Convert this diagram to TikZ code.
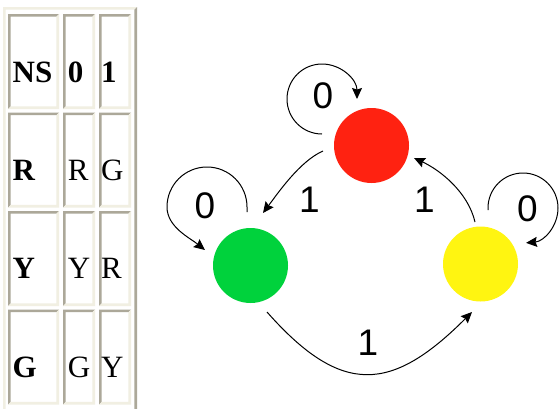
\documentclass[tikz,border=0pt]{standalone}
\usepackage{fontspec}
\setmainfont{Liberation Serif}
\newfontfamily\lblfont{Liberation Sans}
\usetikzlibrary{arrows.meta}
\definecolor{bdark}{HTML}{ACA899}
\definecolor{blight}{HTML}{F1EFE2}
\definecolor{stred}{HTML}{FF2211}
\definecolor{stgreen}{HTML}{00D23C}
\definecolor{styellow}{HTML}{FFF511}
\begin{document}
\begin{tikzpicture}[x=1pt,y=-1pt,
  state/.style={circle,minimum size=75pt,inner sep=0pt,draw=none},
  tcell/.style={anchor=base west,inner sep=0pt,font=\fontsize{31}{31}\selectfont},
  thead/.style={anchor=base west,inner sep=0pt,font=\fontsize{31}{31}\selectfont\bfseries},
  lbl/.style={inner sep=0pt,font=\lblfont\fontsize{37}{37}\selectfont},
  trans/.style={draw=black,line width=1pt,-{Stealth[length=11pt,width=10pt,inset=1.5pt]}}]
\useasboundingbox (0,0) rectangle (560,408);
\fill[white] (0,0) rectangle (560,408);
% outer table border
\fill[blight] (3,7) -- (137,7) -- (134.3,9.7) -- (5.7,9.7) -- (5.7,412) -- (3,412) -- cycle;
\fill[bdark] (137,7) -- (137,412) -- (134.3,412) -- (134.3,9.7) -- cycle;
% cells
\foreach \xa/\xb in {8/59,63/95,99/131}{
  \foreach \ya/\yb in {14/109,112.5/207.5,211/306,309.5/404.5}{
    \fill[bdark] (\xa,\ya) -- (\xb,\ya) -- (\xb-2.7,\ya+2.7) -- (\xa+2.7,\ya+2.7) -- (\xa+2.7,\yb-2.7) -- (\xa,\yb) -- cycle;
    \fill[blight] (\xb,\ya) -- (\xb,\yb) -- (\xa,\yb) -- (\xa+2.7,\yb-2.7) -- (\xb-2.7,\yb-2.7) -- (\xb-2.7,\ya+2.7) -- cycle;
  }
}
% table texts
\node[thead] (hNS) at (12.5,82) {NS};
\node[thead] (h0) at (67.7,82) {0};
\node[thead] (h1) at (101,82) {1};
\node[thead] (sR) at (12.5,180.5) {R};
\node[tcell] (nR0) at (67.7,180.5) {R};
\node[tcell] (nR1) at (101,180.5) {G};
\node[thead] (sY) at (12.5,278.5) {Y};
\node[tcell] (nY0) at (67.7,278.5) {Y};
\node[tcell] (nY1) at (101,278.5) {R};
\node[thead] (sG) at (12.5,377) {G};
\node[tcell] (nG0) at (67.7,377) {G};
\node[tcell] (nG1) at (101,377) {Y};
% states
\node[state,fill=stred] (R) at (371.5,145.5) {};
\node[state,fill=stgreen] (G) at (250.5,265.5) {};
\node[state,fill=styellow] (Y) at (480.5,264) {};
% labels
\node[lbl] (l0r) at (323,96) {0};
\node[lbl] (l0g) at (205,206) {0};
\node[lbl] (l0y) at (527.5,208.5) {0};
\node[lbl] (l1rg) at (309.5,200) {1};
\node[lbl] (l1yr) at (424.5,200) {1};
\node[lbl] (l1gy) at (368,343) {1};
% transitions
\draw[trans] ([shift={(-48.5,5.5)}]R.center) .. controls +(-23,10) and +(15,-20) .. ([shift={(12.5,-52.5)}]G.center);
\draw[trans] ([shift={(-5.5,-42)}]Y.center) .. controls +(-7,-30) and +(26,12) .. ([shift={(42.5,12.5)}]R.center);
\draw[trans] ([shift={(16.5,46.5)}]G.center) .. controls +(75,85) and +(-80,80) .. ([shift={(-8.5,48)}]Y.center);
% self loops
\draw[trans] ([shift={(-49.5,-11.5)}]R.center) arc[start angle=90,end angle=360,radius=35];
\draw[trans] ([shift={(-3.5,-53.5)}]G.center) -- ++(0,-5) arc[start angle=0,end angle=-180,radius=40] .. controls +(0,20) and +(-15,-12) .. ([shift={(-45.5,-15.5)}]G.center);
\draw[trans] ([shift={(7.5,-54)}]Y.center) -- ++(0,-2) arc[start angle=180,end angle=445,radius=35];
\end{tikzpicture}
\end{document}
